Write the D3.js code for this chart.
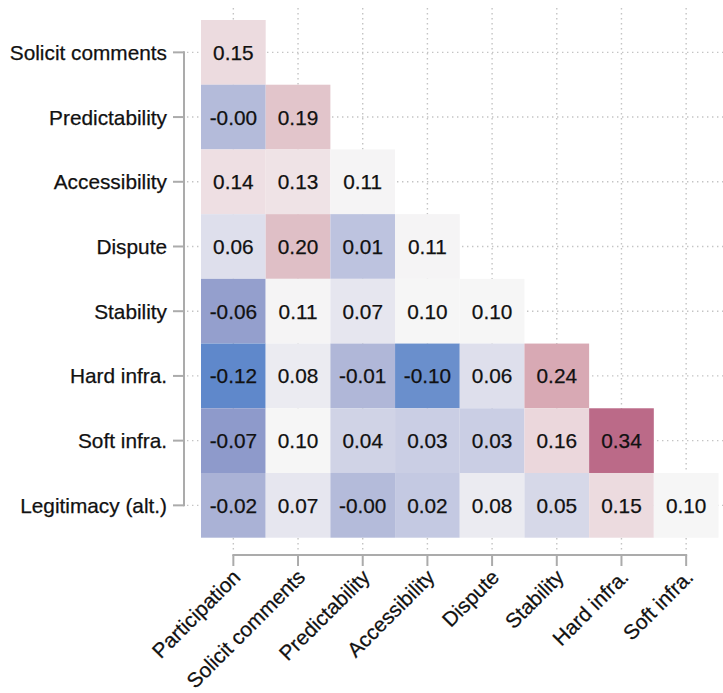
<!DOCTYPE html>
<html>
<head>
<meta charset="utf-8">
<script src="https://cdn.jsdelivr.net/npm/d3@7"></script>
<style>
  html, body { margin: 0; padding: 0; background: #ffffff; }
  svg { display: block; font-family: "Liberation Sans", Arial, sans-serif; }
</style>
</head>
<body>
<svg id="chart" width="723" height="693"></svg>
<script>
// Variables on the horizontal axis (columns) and vertical axis (rows)
const columns = ["Participation", "Solicit comments", "Predictability", "Accessibility",
                 "Dispute", "Stability", "Hard infra.", "Soft infra."];
const rows = ["Solicit comments", "Predictability", "Accessibility", "Dispute",
              "Stability", "Hard infra.", "Soft infra.", "Legitimacy (alt.)"];

// Lower-triangular correlation values, one array per row
const rSolicit      = [0.15];
const rPredict      = [-0.004, 0.19];
const rAccess       = [0.14, 0.13, 0.11];
const rDispute      = [0.06, 0.20, 0.01, 0.11];
const rStability    = [-0.06, 0.11, 0.07, 0.10, 0.10];
const rHardInfra    = [-0.12, 0.08, -0.01, -0.10, 0.06, 0.24];
const rSoftInfra    = [-0.07, 0.10, 0.04, 0.03, 0.03, 0.16, 0.34];
const rLegitimacy   = [-0.02, 0.07, -0.004, 0.02, 0.08, 0.05, 0.15, 0.10];
const rowValues = [rSolicit, rPredict, rAccess, rDispute, rStability, rHardInfra, rSoftInfra, rLegitimacy];

const cells = [];
rowValues.forEach((vals, i) => vals.forEach((v, j) => cells.push({ row: rows[i], col: columns[j], value: v })));

const svg = d3.select("#chart");

const x = d3.scaleBand().domain(columns).range([201, 718.5]).padding(0);
const y = d3.scaleBand().domain(rows).range([20, 537.7]).padding(0);
const cx = d => x(d) + x.bandwidth() / 2;
const cy = d => y(d) + y.bandwidth() / 2;

// Diverging fill centred near 0.10
const color = d3.scaleLinear()
  .domain([-0.12, -0.10, -0.07, -0.01, 0.02, 0.05, 0.07, 0.10, 0.11, 0.13, 0.16, 0.20, 0.24, 0.34])
  .range(["#5f88cb", "#6a8fcc", "#8e9acb", "#b0b7d8", "#c4c9e2", "#d6d8e8", "#e6e6ef",
          "#f6f6f6", "#f5f4f5", "#efe3e6", "#ebd7dc", "#dfbfc6", "#d8a9b4", "#bb6a88"])
  .interpolate(d3.interpolateLab)
  .clamp(true);

// Two-decimal labels keeping the sign of values that round to zero
const fmt = v => v.toFixed(2);

const textStyle = sel => sel.attr("font-size", 20.8).attr("fill", "#111")
  .attr("stroke", "#111").attr("stroke-width", 0.25);

// Dotted panel grid at category centres
const grid = svg.append("g").attr("class", "grid")
  .attr("stroke", "#c4c4c4").attr("stroke-width", 1.4).attr("stroke-dasharray", "1.4,3.6");
grid.selectAll("line.v").data(columns).join("line").attr("class", "v")
  .attr("x1", d => cx(d)).attr("x2", d => cx(d)).attr("y1", 8).attr("y2", 550);
grid.selectAll("line.h").data(rows).join("line").attr("class", "h")
  .attr("y1", d => cy(d)).attr("y2", d => cy(d)).attr("x1", 187).attr("x2", 723);

// Heatmap tiles
svg.append("g").selectAll("rect").data(cells).join("rect")
  .attr("x", d => x(d.col)).attr("y", d => y(d.row))
  .attr("width", x.bandwidth()).attr("height", y.bandwidth())
  .attr("fill", d => color(d.value));

// Value labels
svg.append("g").selectAll("text").data(cells).join("text")
  .attr("x", d => cx(d.col)).attr("y", d => cy(d.row))
  .attr("dy", "0.36em").attr("text-anchor", "middle")
  .call(textStyle)
  .text(d => fmt(d.value));

// Y axis (range-frame style: spans first to last category)
const yAxis = svg.append("g").attr("stroke", "#ababab").attr("stroke-width", 2).attr("fill", "none");
yAxis.append("line").attr("x1", 184).attr("x2", 184)
  .attr("y1", cy(rows[0]) - 1).attr("y2", cy(rows[rows.length - 1]) + 1);
yAxis.selectAll("line.t").data(rows).join("line").attr("class", "t")
  .attr("x1", 173).attr("x2", 184).attr("y1", d => cy(d)).attr("y2", d => cy(d));
svg.append("g").selectAll("text").data(rows).join("text")
  .attr("x", 167).attr("y", d => cy(d)).attr("dy", "0.36em")
  .attr("text-anchor", "end").call(textStyle)
  .text(d => d);

// X axis
const xAxis = svg.append("g").attr("stroke", "#ababab").attr("stroke-width", 2).attr("fill", "none");
xAxis.append("line").attr("y1", 555).attr("y2", 555)
  .attr("x1", cx(columns[0]) - 1).attr("x2", cx(columns[columns.length - 1]) + 1);
xAxis.selectAll("line.t").data(columns).join("line").attr("class", "t")
  .attr("y1", 555).attr("y2", 566).attr("x1", d => cx(d)).attr("x2", d => cx(d));
svg.append("g").selectAll("text").data(columns).join("text")
  .attr("transform", d => `translate(${cx(d) - 2},${568}) rotate(-45)`)
  .attr("dy", "0.71em").attr("text-anchor", "end")
  .call(textStyle)
  .text(d => d);
</script>
</body>
</html>
